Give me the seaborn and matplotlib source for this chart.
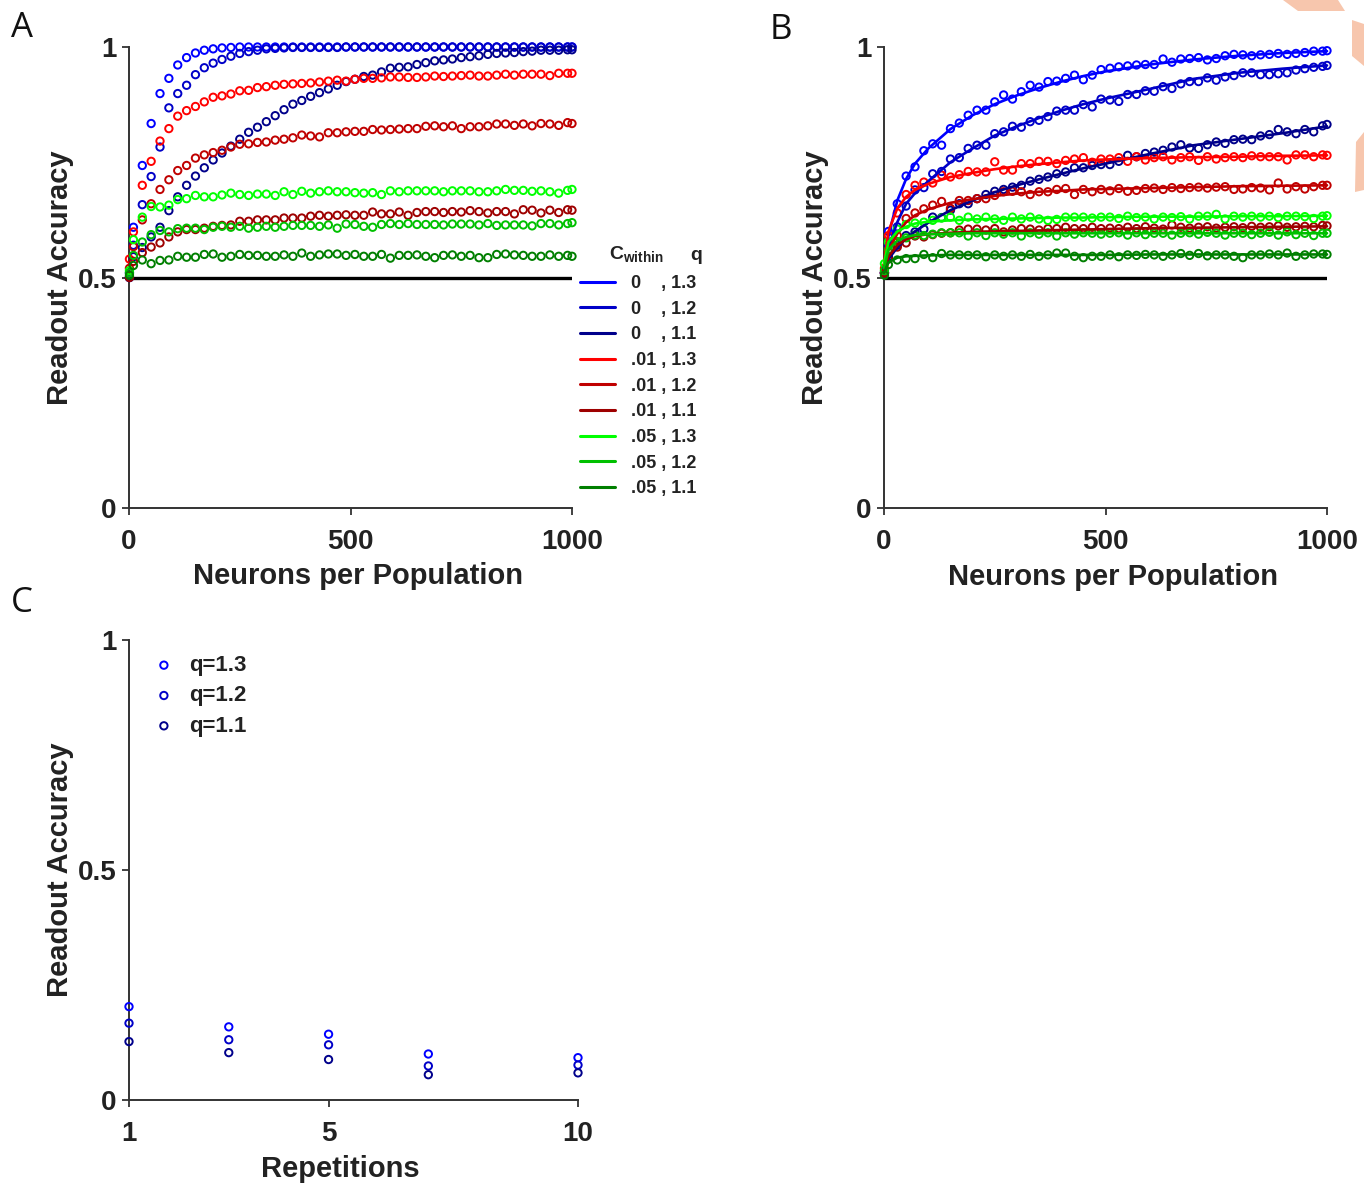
import matplotlib
matplotlib.use("Agg")
import matplotlib.pyplot as plt
from matplotlib.lines import Line2D
from matplotlib.patches import Polygon
import seaborn as sns
import pandas as pd

# ---------------- data ----------------
neurons = [1, 10, 30, 50, 70, 90, 110, 130, 150, 170, 190, 210, 230, 250, 270, 290, 310,
           330, 350, 370, 390, 410, 430, 450, 470, 490, 510, 530, 550, 570, 590, 610, 630,
           650, 670, 690, 710, 730, 750, 770, 790, 810, 830, 850, 870, 890, 910, 930, 950,
           970, 990, 1000]

c_within = ["0", "0", "0", ".01", ".01", ".01", ".05", ".05", ".05"]
q_vals = ["1.3", "1.2", "1.1", "1.3", "1.2", "1.1", "1.3", "1.2", "1.1"]
colors = ["#0000ff", "#0000c8", "#00008b", "#ff0000", "#c00000", "#9e0000",
          "#00ff00", "#00c000", "#007f00"]

# panel A: readout accuracy (points)
a_c0_q13 = [0.51, 0.609, 0.743, 0.834, 0.899, 0.932, 0.961, 0.977, 0.987, 0.993, 0.996, 0.998, 0.999,
            1.0, 1.0, 1.0, 1.0, 1.0, 1.0, 1.0, 1.0, 1.0, 1.0, 1.0, 1.0, 1.0, 1.0, 1.0, 1.0, 1.0,
            1.0, 1.0, 1.0, 1.0, 1.0, 1.0, 1.0, 1.0, 1.0, 1.0, 1.0, 1.0, 1.0, 1.0, 1.0, 1.0, 1.0,
            1.0, 1.0, 1.0, 1.0, 1.0]
a_c0_q12 = [0.50, 0.57, 0.658, 0.719, 0.783, 0.868, 0.899, 0.917, 0.94, 0.955, 0.965, 0.973, 0.98,
            0.986, 0.99, 0.993, 0.996, 0.997, 0.998, 0.999, 0.999, 0.999, 0.999, 0.999, 0.999, 1.0,
            1.0, 1.0, 1.0, 1.0, 1.0, 1.0, 1.0, 1.0, 1.0, 1.0, 1.0, 1.0, 1.0, 1.0, 1.0, 1.0, 1.0,
            1.0, 1.0, 1.0, 1.0, 1.0, 1.0, 1.0, 1.0, 1.0]
a_c0_q11 = [0.50, 0.545, 0.565, 0.588, 0.609, 0.645, 0.675, 0.700, 0.72, 0.738, 0.755, 0.77, 0.785,
            0.80, 0.815, 0.826, 0.838, 0.851, 0.864, 0.876, 0.884, 0.893, 0.901, 0.909, 0.917,
            0.925, 0.93, 0.936, 0.939, 0.946, 0.954, 0.956, 0.957, 0.962, 0.966, 0.97, 0.972,
            0.974, 0.977, 0.979, 0.981, 0.984, 0.986, 0.987, 0.988, 0.99, 0.991, 0.993, 0.993,
            0.993, 0.994, 0.994]
a_c01_q13 = [0.54, 0.599, 0.70, 0.752, 0.796, 0.823, 0.85, 0.862, 0.871, 0.881, 0.891, 0.894, 0.898,
             0.905, 0.906, 0.912, 0.914, 0.917, 0.919, 0.92, 0.921, 0.922, 0.924, 0.926, 0.928,
             0.926, 0.93, 0.932, 0.932, 0.933, 0.935, 0.935, 0.934, 0.934, 0.935, 0.937, 0.936,
             0.937, 0.938, 0.939, 0.937, 0.937, 0.939, 0.941, 0.939, 0.941, 0.941, 0.941, 0.938,
             0.943, 0.943, 0.943]
a_c01_q12 = [0.52, 0.567, 0.625, 0.66, 0.691, 0.712, 0.732, 0.743, 0.759, 0.766, 0.771, 0.776, 0.783,
             0.789, 0.79, 0.793, 0.794, 0.798, 0.8, 0.803, 0.809, 0.807, 0.805, 0.814, 0.814,
             0.816, 0.817, 0.817, 0.821, 0.82, 0.821, 0.822, 0.823, 0.823, 0.828, 0.829, 0.827,
             0.829, 0.823, 0.827, 0.827, 0.829, 0.833, 0.833, 0.83, 0.833, 0.829, 0.834, 0.833,
             0.83, 0.836, 0.834]
a_c01_q11 = [0.50, 0.535, 0.554, 0.566, 0.575, 0.588, 0.599, 0.604, 0.604, 0.607, 0.611, 0.613, 0.614,
             0.622, 0.622, 0.625, 0.625, 0.625, 0.629, 0.629, 0.629, 0.633, 0.635, 0.633, 0.635,
             0.636, 0.635, 0.635, 0.642, 0.638, 0.638, 0.642, 0.635, 0.641, 0.643, 0.643, 0.641,
             0.643, 0.642, 0.645, 0.643, 0.64, 0.643, 0.643, 0.638, 0.647, 0.646, 0.64, 0.646,
             0.641, 0.647, 0.646]
a_c05_q13 = [0.515, 0.582, 0.631, 0.654, 0.653, 0.657, 0.669, 0.671, 0.678, 0.675, 0.675, 0.679, 0.683,
             0.68, 0.678, 0.681, 0.681, 0.678, 0.686, 0.68, 0.687, 0.683, 0.686, 0.688, 0.686,
             0.686, 0.684, 0.683, 0.684, 0.68, 0.688, 0.686, 0.688, 0.688, 0.688, 0.688, 0.686,
             0.688, 0.688, 0.688, 0.686, 0.686, 0.688, 0.691, 0.689, 0.689, 0.687, 0.688, 0.686,
             0.683, 0.689, 0.691]
a_c05_q12 = [0.51, 0.548, 0.577, 0.593, 0.602, 0.599, 0.606, 0.607, 0.607, 0.604, 0.609, 0.611, 0.609,
             0.611, 0.607, 0.609, 0.611, 0.609, 0.611, 0.613, 0.613, 0.613, 0.611, 0.614, 0.607,
             0.616, 0.615, 0.611, 0.609, 0.615, 0.617, 0.615, 0.617, 0.615, 0.615, 0.615, 0.614,
             0.616, 0.616, 0.616, 0.614, 0.617, 0.613, 0.614, 0.614, 0.614, 0.612, 0.617, 0.617,
             0.614, 0.617, 0.619]
a_c05_q11 = [0.505, 0.526, 0.538, 0.53, 0.537, 0.538, 0.546, 0.544, 0.544, 0.55, 0.551, 0.544, 0.546,
             0.55, 0.548, 0.548, 0.546, 0.546, 0.549, 0.546, 0.553, 0.546, 0.549, 0.551, 0.551,
             0.548, 0.55, 0.546, 0.546, 0.55, 0.542, 0.548, 0.548, 0.549, 0.546, 0.543, 0.548,
             0.549, 0.546, 0.548, 0.543, 0.543, 0.55, 0.551, 0.549, 0.548, 0.546, 0.546, 0.549,
             0.546, 0.548, 0.546]

# panel B: readout accuracy (points)
b_c0_q13 = [0.51, 0.60, 0.66, 0.72, 0.74, 0.775, 0.79, 0.787, 0.823, 0.835, 0.852, 0.863, 0.863,
            0.881, 0.896, 0.887, 0.903, 0.917, 0.913, 0.925, 0.926, 0.932, 0.939, 0.929, 0.939, 0.951,
            0.954, 0.957, 0.959, 0.961, 0.962, 0.962, 0.974, 0.967, 0.974, 0.975, 0.977, 0.972,
            0.975, 0.981, 0.984, 0.983, 0.981, 0.983, 0.984, 0.986, 0.984, 0.986, 0.988, 0.991,
            0.991, 0.992]
b_c0_q12 = [0.51, 0.57, 0.61, 0.655, 0.69, 0.695, 0.725, 0.73, 0.757, 0.76, 0.78, 0.787, 0.787,
            0.812, 0.816, 0.828, 0.826, 0.838, 0.841, 0.849, 0.861, 0.863, 0.863, 0.875, 0.87, 0.887,
            0.885, 0.882, 0.897, 0.897, 0.905, 0.904, 0.914, 0.91, 0.92, 0.925, 0.925, 0.933,
            0.928, 0.935, 0.938, 0.944, 0.944, 0.94, 0.94, 0.942, 0.944, 0.95, 0.953, 0.956,
            0.958, 0.96]
b_c0_q11 = [0.51, 0.545, 0.57, 0.591, 0.599, 0.605, 0.631, 0.63, 0.646, 0.66, 0.66, 0.671, 0.68,
            0.687, 0.691, 0.696, 0.70, 0.709, 0.713, 0.718, 0.725, 0.729, 0.738, 0.738, 0.743, 0.745,
            0.745, 0.752, 0.765, 0.762, 0.769, 0.772, 0.776, 0.783, 0.788, 0.781, 0.78, 0.788,
            0.794, 0.791, 0.799, 0.80, 0.799, 0.807, 0.81, 0.821, 0.816, 0.812, 0.821, 0.816,
            0.829, 0.832]
b_c01_q13 = [0.52, 0.591, 0.64, 0.68, 0.70, 0.707, 0.705, 0.722, 0.718, 0.723, 0.73, 0.729, 0.729,
             0.751, 0.733, 0.733, 0.747, 0.747, 0.752, 0.752, 0.747, 0.754, 0.757, 0.76, 0.75, 0.757,
             0.757, 0.760, 0.752, 0.762, 0.755, 0.76, 0.762, 0.755, 0.76, 0.762, 0.754, 0.762,
             0.757, 0.76, 0.762, 0.76, 0.764, 0.762, 0.762, 0.762, 0.755, 0.766, 0.766, 0.762,
             0.766, 0.765]
b_c01_q12 = [0.51, 0.555, 0.591, 0.628, 0.64, 0.649, 0.657, 0.665, 0.65, 0.667, 0.667, 0.671, 0.671,
             0.678, 0.686, 0.687, 0.686, 0.68, 0.686, 0.686, 0.691, 0.693, 0.68, 0.691, 0.686, 0.691,
             0.688, 0.693, 0.687, 0.689, 0.693, 0.694, 0.691, 0.695, 0.693, 0.695, 0.696, 0.694,
             0.696, 0.697, 0.691, 0.692, 0.695, 0.694, 0.69, 0.705, 0.692, 0.697, 0.692, 0.697,
             0.70, 0.70]
b_c01_q11 = [0.51, 0.54, 0.566, 0.575, 0.59, 0.588, 0.593, 0.596, 0.597, 0.603, 0.605, 0.605, 0.603,
             0.606, 0.599, 0.603, 0.606, 0.605, 0.603, 0.606, 0.606, 0.609, 0.606, 0.606, 0.609, 0.606,
             0.607, 0.606, 0.609, 0.606, 0.61, 0.607, 0.605, 0.614, 0.609, 0.607, 0.609, 0.61,
             0.607, 0.609, 0.61, 0.608, 0.611, 0.609, 0.61, 0.612, 0.609, 0.61, 0.611, 0.61,
             0.613, 0.612]
b_c05_q13 = [0.53, 0.577, 0.605, 0.615, 0.618, 0.62, 0.624, 0.629, 0.631, 0.624, 0.631, 0.627, 0.631,
             0.627, 0.624, 0.631, 0.627, 0.631, 0.627, 0.624, 0.626, 0.631, 0.631, 0.631, 0.629, 0.631,
             0.631, 0.628, 0.633, 0.63, 0.631, 0.627, 0.631, 0.63, 0.632, 0.627, 0.633, 0.633,
             0.637, 0.627, 0.633, 0.631, 0.633, 0.631, 0.633, 0.63, 0.633, 0.633, 0.632, 0.628,
             0.633, 0.634]
b_c05_q12 = [0.515, 0.56, 0.578, 0.586, 0.592, 0.591, 0.594, 0.597, 0.597, 0.597, 0.59, 0.597, 0.591,
             0.597, 0.594, 0.597, 0.59, 0.597, 0.594, 0.597, 0.59, 0.597, 0.594, 0.597, 0.596, 0.594,
             0.596, 0.597, 0.592, 0.597, 0.593, 0.596, 0.596, 0.592, 0.596, 0.597, 0.594, 0.598,
             0.596, 0.592, 0.596, 0.596, 0.593, 0.596, 0.598, 0.592, 0.599, 0.593, 0.596, 0.591,
             0.596, 0.596]
b_c05_q11 = [0.505, 0.528, 0.538, 0.541, 0.541, 0.55, 0.543, 0.552, 0.549, 0.549, 0.548, 0.549, 0.545,
             0.549, 0.546, 0.549, 0.546, 0.55, 0.546, 0.549, 0.553, 0.553, 0.546, 0.543, 0.546, 0.546,
             0.549, 0.545, 0.549, 0.548, 0.55, 0.549, 0.546, 0.549, 0.552, 0.548, 0.552, 0.547,
             0.549, 0.549, 0.546, 0.543, 0.549, 0.549, 0.551, 0.549, 0.553, 0.546, 0.549, 0.551,
             0.551, 0.55]

# panel B: fitted curves
fit_x = [0, 10, 30, 50, 70, 100, 150, 200, 250, 300, 350, 400, 450, 500, 600, 700, 800, 900, 1000]
fit_c0_q13 = [0.52, 0.59, 0.667, 0.714, 0.747, 0.78, 0.822, 0.852, 0.876, 0.895, 0.911, 0.925,
              0.937, 0.947, 0.962, 0.973, 0.981, 0.987, 0.991]
fit_c0_q12 = [0.52, 0.565, 0.62, 0.66, 0.683, 0.709, 0.75, 0.78, 0.808, 0.828, 0.846, 0.862,
              0.876, 0.888, 0.909, 0.931, 0.944, 0.953, 0.96]
fit_c0_q11 = [0.52, 0.54, 0.565, 0.585, 0.6, 0.619, 0.646, 0.667, 0.685, 0.70, 0.713, 0.725,
              0.737, 0.747, 0.768, 0.787, 0.80, 0.813, 0.828]
fit_c01_q13 = [0.53, 0.60, 0.65, 0.675, 0.69, 0.703, 0.718, 0.727, 0.735, 0.741, 0.746, 0.75,
               0.754, 0.756, 0.759, 0.761, 0.762, 0.764, 0.765]
fit_c01_q12 = [0.52, 0.56, 0.595, 0.62, 0.635, 0.648, 0.662, 0.67, 0.677, 0.682, 0.686, 0.688,
               0.691, 0.692, 0.694, 0.696, 0.698, 0.699, 0.70]
fit_c01_q11 = [0.51, 0.545, 0.57, 0.583, 0.59, 0.594, 0.597, 0.599, 0.60, 0.601, 0.602, 0.603,
               0.604, 0.605, 0.607, 0.608, 0.609, 0.61, 0.611]
fit_c05_q13 = [0.53, 0.577, 0.60, 0.61, 0.617, 0.621, 0.624, 0.626, 0.627, 0.628, 0.629, 0.63,
               0.63, 0.631, 0.632, 0.632, 0.633, 0.633, 0.634]
fit_c05_q12 = [0.52, 0.56, 0.58, 0.588, 0.592, 0.594, 0.595, 0.596, 0.596, 0.596, 0.596, 0.596,
               0.596, 0.596, 0.596, 0.596, 0.596, 0.596, 0.596]
fit_c05_q11 = [0.51, 0.533, 0.543, 0.546, 0.547, 0.548, 0.549, 0.549, 0.549, 0.549, 0.549, 0.549,
               0.549, 0.549, 0.55, 0.55, 0.55, 0.55, 0.55]

# panel C: accuracy vs repetitions
repetitions = [1, 3, 5, 7, 10]
c_labels = ["q=1.3", "q=1.2", "q=1.1"]
c_q13 = [0.203, 0.159, 0.143, 0.100, 0.092]
c_q12 = [0.167, 0.131, 0.120, 0.074, 0.076]
c_q11 = [0.127, 0.103, 0.088, 0.055, 0.059]

a_series = [a_c0_q13, a_c0_q12, a_c0_q11, a_c01_q13, a_c01_q12, a_c01_q11,
            a_c05_q13, a_c05_q12, a_c05_q11]
b_series = [b_c0_q13, b_c0_q12, b_c0_q11, b_c01_q13, b_c01_q12, b_c01_q11,
            b_c05_q13, b_c05_q12, b_c05_q11]
b_fits = [fit_c0_q13, fit_c0_q12, fit_c0_q11, fit_c01_q13, fit_c01_q12, fit_c01_q11,
          fit_c05_q13, fit_c05_q12, fit_c05_q11]
c_series = [c_q13, c_q12, c_q11]

# ---------------- style ----------------
sns.set_theme(style="ticks")
plt.rcParams["font.family"] = ["Liberation Sans", "DejaVu Sans"]
plt.rcParams["mathtext.fontset"] = "custom"
plt.rcParams["mathtext.rm"] = "Liberation Sans"
plt.rcParams["mathtext.bf"] = "Liberation Sans:bold"

TXT = "#222222"
SPINE = "#333333"
W, H = 1364, 1184

fig = plt.figure(figsize=(W / 100, H / 100), dpi=100)
fig.patch.set_facecolor("white")


def px_rect(x0, y0, x1, y1):
    return [x0 / W, 1 - y1 / H, (x1 - x0) / W, (y1 - y0) / H]


axA = fig.add_axes(px_rect(129, 47, 572, 508))
axB = fig.add_axes(px_rect(884, 47, 1327, 508))
axC = fig.add_axes(px_rect(129, 640, 578, 1100))


def style_axis(ax, xticks, xlabels, xlabel, xlab_pos):
    ax.set_ylim(0, 1)
    ax.set_yticks([0, 0.5, 1])
    ax.set_yticklabels(["0", "0.5", "1"], fontweight="bold", fontsize=20, color=TXT)
    ax.set_xticks(xticks)
    ax.set_xticklabels(xlabels, fontweight="bold", fontsize=20, color=TXT)
    ax.set_xlabel(xlabel, fontweight="bold", fontsize=21, color=TXT)
    ax.xaxis.set_label_coords(*xlab_pos)
    ax.set_ylabel("Readout Accuracy", fontweight="bold", fontsize=21, color=TXT, labelpad=3)
    sns.despine(ax=ax)
    for s in ["left", "bottom"]:
        ax.spines[s].set_color(SPINE)
        ax.spines[s].set_linewidth(1.4)
    ax.tick_params(direction="out", length=5, width=1.3, color=SPINE)
    ax.tick_params(axis="y", pad=4)
    ax.tick_params(axis="x", pad=10)
    ax.set_facecolor("white")


# panel A
dfA = pd.concat([pd.DataFrame({"neurons": neurons, "acc": s, "k": i})
                 for i, s in enumerate(a_series)])
axA.axhline(0.5, xmin=0, xmax=1, color="black", lw=2.4, zorder=1)
for i, c in enumerate(colors):
    sub = dfA[dfA["k"] == i]
    sns.scatterplot(data=sub, x="neurons", y="acc", ax=axA, marker="o", s=28,
                    facecolor="none", edgecolor=c, linewidth=1.4, clip_on=False, zorder=3)
axA.set_xlim(0, 1000)
style_axis(axA, [0, 500, 1000], ["0", "500", "1000"], "Neurons per Population",
           ((358 - 129) / 443, (508 - 562) / 461))

handles = [Line2D([0], [0], color=c, lw=2.2) for c in colors]
labels = [(cw + "    " if cw == "0" else cw + " ") + ", " + q for cw, q in zip(c_within, q_vals)]
leg = axA.legend(handles, labels, loc="upper left", bbox_to_anchor=(580 / W, 1 - 275 / H),
                 bbox_transform=fig.transFigure, frameon=False,
                 prop={"weight": "bold", "size": 13}, handlelength=1.95, handletextpad=0.85,
                 labelspacing=0.48, borderpad=0, borderaxespad=0)
for t in leg.get_texts():
    t.set_color(TXT)
fig.text(609 / W, 1 - 255 / H, r"$\mathbf{C}_{\mathbf{within}}$", fontsize=14, color=TXT,
         va="center", ha="left")
fig.text(690 / W, 1 - 255 / H, "q", fontsize=14, fontweight="bold", color=TXT,
         va="center", ha="left")

# panel B
dfB = pd.concat([pd.DataFrame({"neurons": neurons, "acc": s, "k": i})
                 for i, s in enumerate(b_series)])
dfF = pd.concat([pd.DataFrame({"neurons": fit_x, "acc": s, "k": i})
                 for i, s in enumerate(b_fits)])
axB.axhline(0.5, xmin=0, xmax=1, color="black", lw=2.4, zorder=1)
for i, c in enumerate(colors):
    sub = dfB[dfB["k"] == i]
    sns.scatterplot(data=sub, x="neurons", y="acc", ax=axB, marker="o", s=28,
                    facecolor="none", edgecolor=c, linewidth=1.4, clip_on=False, zorder=3)
for i, c in enumerate(colors):
    sub = dfF[dfF["k"] == i]
    sns.lineplot(data=sub, x="neurons", y="acc", ax=axB, color=c, lw=1.9,
                 estimator=None, errorbar=None, zorder=4, clip_on=False)
axB.set_xlim(0, 1000)
style_axis(axB, [0, 500, 1000], ["0", "500", "1000"], "Neurons per Population",
           ((1113 - 884) / 443, (508 - 563) / 461))

# panel C
dfC = pd.concat([pd.DataFrame({"reps": repetitions, "acc": s, "q": lab})
                 for s, lab in zip(c_series, c_labels)])
for lab, c in zip(c_labels, colors[:3]):
    sub = dfC[dfC["q"] == lab]
    sns.scatterplot(data=sub, x="reps", y="acc", ax=axC, marker="o", s=28,
                    facecolor="none", edgecolor=c, linewidth=1.4, clip_on=False, zorder=3,
                    label=lab)
axC.set_xlim(1, 10)
style_axis(axC, [1, 5, 10], ["1", "5", "10"], "Repetitions",
           ((340 - 129) / 449, (1100 - 1155) / 460))
legC = axC.legend(loc="upper left", bbox_to_anchor=(155 / W, 1 - 655 / H),
                  bbox_transform=fig.transFigure, frameon=False,
                  prop={"weight": "bold", "size": 16}, handlelength=0.8, handletextpad=0.75,
                  labelspacing=0.42, borderpad=0, borderaxespad=0)
for t in legC.get_texts():
    t.set_color(TXT)

# panel letters
for x, y, s in [(11, 28, "A"), (770, 30, "B"), (11, 603, "C")]:
    fig.text(x / W, 1 - y / H, s, fontsize=25, family="Open Sans", color="#111111",
             va="center", ha="left")

# pale watermark fragments at the top right edge
for pts in [[(1283, 0), (1338, 0), (1345, 11), (1298, 11)],
            [(1352, 20), (1364, 24), (1364, 66), (1352, 56)],
            [(1356, 142), (1364, 132), (1364, 190), (1355, 192)]]:
    fig.patches.append(Polygon([(x / W, 1 - y / H) for x, y in pts], closed=True,
                               transform=fig.transFigure, facecolor="#f7c6ad",
                               edgecolor="none", zorder=0))

fig.savefig("out.png", dpi=100, facecolor="white")
